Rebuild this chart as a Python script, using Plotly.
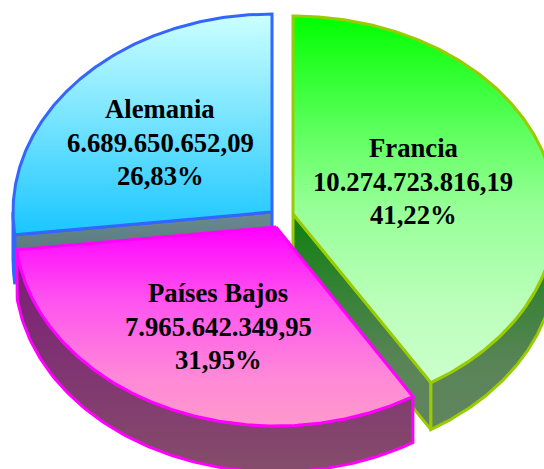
import numpy as np
import plotly.graph_objects as go

categories = ["Francia", "Países Bajos", "Alemania"]
values = [10274723816.19, 7965642349.95, 6689650652.09]
amount_labels = ["10.274.723.816,19", "7.965.642.349,95", "6.689.650.652,09"]
percent_labels = ["41,22%", "31,95%", "26,83%"]

W, H = 544, 469
apex = {"Francia": (293, 214), "Países Bajos": (276, 227), "Alemania": (272, 212)}
radii = {"Francia": (263, 198), "Países Bajos": (261, 199), "Alemania": (259, 198)}
depth = {"Francia": 47, "Países Bajos": 46, "Alemania": 48}
border = {"Francia": "#99cc00", "Países Bajos": "#ff00ff", "Alemania": "#3366ff"}
top_grad = {
    "Francia": [[0, "#00ff00"], [0.3, "#5aff5a"], [0.52, "#96ff96"], [0.78, "#baffba"], [1, "#ccffcc"]],
    "Países Bajos": [[0, "#ff00ff"], [0.35, "#ff50f0"], [0.75, "#ff88d8"], [1, "#ff99cc"]],
    "Alemania": [[0, "#ccffff"], [1, "#1ac6ff"]],
}
wall_grad = {
    "Francia": [[0, "#108010"], [0.7, "#5a8458"], [1, "#618560"]],
    "Países Bajos": [[0, "#7a1a7a"], [1, "#854d6a"]],
    "Alemania": [[0, "#6a8a90"], [1, "#4a7070"]],
}
label_pos = {"Francia": (413, 148), "Países Bajos": (218, 293), "Alemania": (160, 109)}
LINE_STEP = 33.5

total = sum(values)
bounds = {}
acc = 0.0
for c, v in zip(categories, values):
    bounds[c] = (acc, acc + v / total * 2 * np.pi)
    acc = bounds[c][1]


def arc(c, a0, a1, dy=0.0, n=120):
    t = np.linspace(a0, a1, n)
    cx, cy = apex[c]
    rx, ry = radii[c]
    return cx + rx * np.sin(t), cy - ry * np.cos(t) + dy


fig = go.Figure()


def add_poly(xs, ys, c, grad, y0, y1):
    fig.add_trace(go.Scatter(
        x=np.append(xs, xs[0]), y=np.append(ys, ys[0]),
        mode="lines", fill="toself",
        line=dict(color=border[c], width=3),
        fillgradient=dict(type="vertical", start=y0, stop=y1, colorscale=grad),
        hoverinfo="skip", showlegend=False,
    ))


def wall_outer(c, a0, a1):
    d = depth[c]
    x1, y1 = arc(c, a0, a1)
    x2, y2 = arc(c, a0, a1, d)
    xs = np.concatenate([x1, x2[::-1]])
    ys = np.concatenate([y1, y2[::-1]])
    add_poly(xs, ys, c, wall_grad[c], ys.min(), ys.max())


def wall_inner(c, a):
    d = depth[c]
    cx, cy = apex[c]
    ex, ey = arc(c, a, a, n=1)
    xs = np.array([cx, ex[0], ex[0], cx])
    ys = np.array([cy, ey[0], ey[0] + d, cy + d])
    add_poly(xs, ys, c, wall_grad[c], ys.min(), ys.max())


def top(c):
    a0, a1 = bounds[c]
    cx, cy = apex[c]
    x, y = arc(c, a0, a1, n=240)
    xs = np.concatenate([[cx], x])
    ys = np.concatenate([[cy], y])
    add_poly(xs, ys, c, top_grad[c], ys.min(), ys.max())


# Alemania
a0, a1 = bounds["Alemania"]
wall_inner("Alemania", a0)
wall_outer("Alemania", a0, 1.5 * np.pi)
top("Alemania")
# Francia
a0, a1 = bounds["Francia"]
wall_inner("Francia", a1)
wall_outer("Francia", np.pi / 2, a1)
top("Francia")
# Países Bajos
a0, a1 = bounds["Países Bajos"]
wall_outer("Países Bajos", a0, a1)
top("Países Bajos")

for c, amt, pct in zip(categories, amount_labels, percent_labels):
    lx, ly = label_pos[c]
    for i, line in enumerate([c, amt, pct]):
        fig.add_annotation(
            x=lx, y=ly + i * LINE_STEP, text=f"<b>{line}</b>", showarrow=False,
            font=dict(family="Liberation Serif", size=26.7, color="#000000"),
            xanchor="center", yanchor="middle",
        )

fig.update_layout(
    width=W, height=H, margin=dict(l=0, r=0, t=0, b=0),
    paper_bgcolor="#ffffff", plot_bgcolor="#ffffff", showlegend=False,
    xaxis=dict(range=[0, W], visible=False, fixedrange=True),
    yaxis=dict(range=[H, 0], visible=False, fixedrange=True),
)
fig.write_html("out.html", config={"displayModeBar": False},
               post_script="document.body.style.margin='0';document.documentElement.style.overflow='hidden';")
